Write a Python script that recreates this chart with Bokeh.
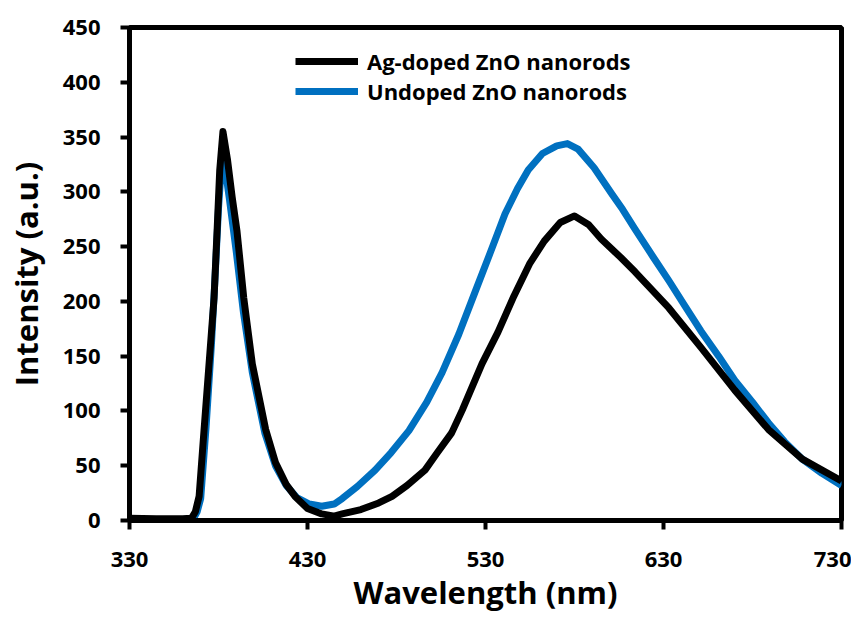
from bokeh.plotting import figure
from bokeh.models import Range1d, FixedTicker, Legend, LegendItem
from bokeh.embed import file_html
from bokeh.resources import INLINE

# Wavelength (nm) and intensity (a.u.)
ag_wl = [330, 345, 360, 364.8, 367, 369.1, 371.9, 374.7, 377.5, 379.2, 380.7, 382.5,
         385, 387.7, 390.4, 394.2, 399, 406.5, 412, 418, 423, 430, 438, 445,
         449.5, 460, 470, 477.5, 486, 496, 503, 511, 517, 528, 537, 546, 555,
         563, 572, 580, 588, 595, 606, 614, 633, 651, 670, 689, 708, 730]
ag_int = [2, 1.5, 1.5, 2, 8, 22, 83, 143, 203, 264, 320, 355,
          330, 295, 264, 203, 143, 83, 53, 33, 22, 11, 6, 4,
          6, 10, 16, 22, 32, 46, 62, 80, 101, 143, 172, 205, 235,
          255, 272, 278, 270, 257, 240, 227, 194, 158, 119, 83, 56, 36]

un_wl = [330, 345, 360, 366, 368, 370, 373, 376, 378, 380, 382, 384, 386,
         390, 394, 399, 406, 412, 418, 424, 431, 438, 445, 449.5, 458, 468,
         477, 487, 497, 505.6, 515, 524, 534, 541, 548, 554, 562, 570, 576,
         582, 591, 601, 607, 614, 624, 633, 642, 651, 661, 670, 680, 689,
         698, 708, 719, 730]
un_int = [1, 1, 1, 2, 8, 20, 85, 160, 220, 285, 333, 318, 295,
          245, 190, 135, 80, 50, 32, 21, 15, 13, 15, 20, 31, 46,
          62, 82, 108, 135, 170, 208, 250, 280, 303, 320, 335, 342, 344,
          339, 322, 298, 284, 266, 241, 219, 196, 173, 150, 128, 108, 89,
          72, 56, 43, 32]

x_ticks = [330, 430, 530, 630, 730]
y_ticks = [0, 50, 100, 150, 200, 250, 300, 350, 400, 450]
series_names = ["Ag-doped ZnO nanorods", "Undoped ZnO nanorods"]
series_colors = ["#000000", "#0070C0"]

FONT = "Open Sans"

p = figure(width=851, height=615, output_backend="svg", toolbar_location=None,
           x_range=Range1d(330, 730), y_range=Range1d(0, 450),
           min_border_left=129, min_border_right=10, min_border_top=27,
           min_border_bottom=93, background_fill_color="white",
           border_fill_color="white")

p.grid.visible = False
p.outline_line_color = "black"
p.outline_line_width = 5

r_un = p.line(un_wl, un_int, line_color=series_colors[1], line_width=7,
              line_join="round")
r_ag = p.line(ag_wl, ag_int, line_color=series_colors[0], line_width=7,
              line_join="round")

for ax in (p.xaxis[0], p.yaxis[0]):
    ax.axis_line_width = 5
    ax.axis_line_color = "black"
    ax.major_tick_line_width = 4
    ax.major_tick_line_color = "black"
    ax.major_tick_in = 0
    ax.major_tick_out = 9
    ax.minor_tick_line_color = None
    ax.major_label_text_font = FONT
    ax.major_label_text_font_style = "bold"
    ax.major_label_text_font_size = "22px"
    ax.major_label_text_color = "black"
    ax.axis_label_text_font = FONT
    ax.axis_label_text_font_style = "bold"
    ax.axis_label_text_font_size = "31px"
    ax.axis_label_text_color = "black"

p.xaxis[0].ticker = FixedTicker(ticks=x_ticks)
p.yaxis[0].ticker = FixedTicker(ticks=y_ticks)
p.xaxis[0].axis_label = "Wavelength (nm)"
p.yaxis[0].axis_label = "Intensity (a.u.)"
p.xaxis[0].major_label_standoff = 22
p.yaxis[0].major_label_standoff = 20
p.xaxis[0].axis_label_standoff = 1
p.yaxis[0].axis_label_standoff = 13

legend = Legend(items=[LegendItem(label=series_names[0], renderers=[r_ag]),
                       LegendItem(label=series_names[1], renderers=[r_un])],
                location=(166, 414), orientation="vertical",
                border_line_color=None, background_fill_alpha=0,
                padding=0, margin=0, spacing=0,
                glyph_width=63, glyph_height=28, label_height=28,
                label_standoff=9,
                label_text_font=FONT, label_text_font_style="bold",
                label_text_font_size="22px", label_text_color="black")
p.add_layout(legend, "center")

open("out.html", "w").write(file_html(p, INLINE))
